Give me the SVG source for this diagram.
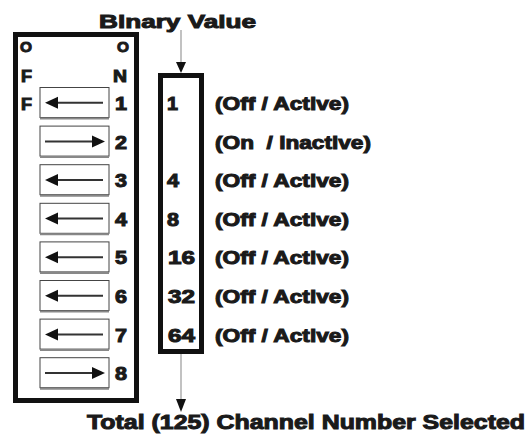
<svg xmlns="http://www.w3.org/2000/svg" width="527" height="437" viewBox="0 0 527 437">
<style>
.t{font-family:"Liberation Sans",Arial,sans-serif;font-weight:bold;fill:#1a1a1a;stroke:#1a1a1a;stroke-width:1;white-space:pre}
.frame{fill:none;stroke:#111;stroke-width:5}
.sw{fill:#fff;stroke:#444;stroke-width:1}
.sh{stroke:#888;stroke-width:2}
.al{stroke:#333;stroke-width:2}
.ah{fill:#111}
.conn{stroke:#999;stroke-width:1.2;fill:none}
</style>
<rect width="527" height="437" fill="#fff"/>
<g id="title"><text class="t" x="99" y="28" font-size="19" textLength="157" lengthAdjust="spacingAndGlyphs">Binary Value</text></g>
<g id="dip-switch">
<rect class="frame" x="15.5" y="34.5" width="121" height="366"/>
<text class="t" x="20" y="52" font-size="15" textLength="12" lengthAdjust="spacingAndGlyphs">O</text>
<text class="t" x="21" y="82" font-size="16" textLength="11" lengthAdjust="spacingAndGlyphs">F</text>
<text class="t" x="21" y="110" font-size="16" textLength="11" lengthAdjust="spacingAndGlyphs">F</text>
<text class="t" x="117" y="52" font-size="15" textLength="12" lengthAdjust="spacingAndGlyphs">O</text>
<text class="t" x="113" y="82" font-size="16" textLength="14" lengthAdjust="spacingAndGlyphs">N</text>
<g id="sw1"><rect class="sw" x="40" y="87.5" width="69" height="30"/><line class="sh" x1="40" y1="118.5" x2="109" y2="118.5"/><line class="al" x1="56" y1="102.8" x2="103" y2="102.8"/><polygon class="ah" points="45,102.8 58,96.8 58,108.8"/><text class="t" x="115" y="110" font-size="18" textLength="12" lengthAdjust="spacingAndGlyphs">1</text></g>
<g id="sw2"><rect class="sw" x="40" y="126.1" width="69" height="30"/><line class="sh" x1="40" y1="157.1" x2="109" y2="157.1"/><line class="al" x1="45" y1="141.4" x2="94" y2="141.4"/><polygon class="ah" points="105,141.4 92,135.4 92,147.4"/><text class="t" x="115" y="148.6" font-size="18" textLength="12" lengthAdjust="spacingAndGlyphs">2</text></g>
<g id="sw3"><rect class="sw" x="40" y="164.7" width="69" height="30"/><line class="sh" x1="40" y1="195.7" x2="109" y2="195.7"/><line class="al" x1="56" y1="180" x2="103" y2="180"/><polygon class="ah" points="45,180 58,174 58,186"/><text class="t" x="115" y="187.2" font-size="18" textLength="12" lengthAdjust="spacingAndGlyphs">3</text></g>
<g id="sw4"><rect class="sw" x="40" y="203.3" width="69" height="30"/><line class="sh" x1="40" y1="234.3" x2="109" y2="234.3"/><line class="al" x1="56" y1="218.6" x2="103" y2="218.6"/><polygon class="ah" points="45,218.6 58,212.6 58,224.6"/><text class="t" x="115" y="225.8" font-size="18" textLength="12" lengthAdjust="spacingAndGlyphs">4</text></g>
<g id="sw5"><rect class="sw" x="40" y="241.9" width="69" height="30"/><line class="sh" x1="40" y1="272.9" x2="109" y2="272.9"/><line class="al" x1="56" y1="257.2" x2="103" y2="257.2"/><polygon class="ah" points="45,257.2 58,251.2 58,263.2"/><text class="t" x="115" y="264.4" font-size="18" textLength="12" lengthAdjust="spacingAndGlyphs">5</text></g>
<g id="sw6"><rect class="sw" x="40" y="280.5" width="69" height="30"/><line class="sh" x1="40" y1="311.5" x2="109" y2="311.5"/><line class="al" x1="56" y1="295.8" x2="103" y2="295.8"/><polygon class="ah" points="45,295.8 58,289.8 58,301.8"/><text class="t" x="115" y="303" font-size="18" textLength="12" lengthAdjust="spacingAndGlyphs">6</text></g>
<g id="sw7"><rect class="sw" x="40" y="319.1" width="69" height="30"/><line class="sh" x1="40" y1="350.1" x2="109" y2="350.1"/><line class="al" x1="56" y1="334.4" x2="103" y2="334.4"/><polygon class="ah" points="45,334.4 58,328.4 58,340.4"/><text class="t" x="115" y="341.6" font-size="18" textLength="12" lengthAdjust="spacingAndGlyphs">7</text></g>
<g id="sw8"><rect class="sw" x="40" y="357.7" width="69" height="30"/><line class="sh" x1="40" y1="388.7" x2="109" y2="388.7"/><line class="al" x1="45" y1="373" x2="94" y2="373"/><polygon class="ah" points="105,373 92,367 92,379"/><text class="t" x="115" y="380.2" font-size="18" textLength="12" lengthAdjust="spacingAndGlyphs">8</text></g>
</g>
<g id="binary-values">
<rect class="frame" x="160.5" y="75.5" width="41" height="276"/>
<text class="t" x="167" y="110" font-size="18" textLength="11" lengthAdjust="spacingAndGlyphs">1</text>
<text class="t" x="167" y="187.2" font-size="18" textLength="12" lengthAdjust="spacingAndGlyphs">4</text>
<text class="t" x="167" y="225.8" font-size="18" textLength="12" lengthAdjust="spacingAndGlyphs">8</text>
<text class="t" x="168" y="264.4" font-size="18" textLength="27" lengthAdjust="spacingAndGlyphs">16</text>
<text class="t" x="168" y="303" font-size="18" textLength="27" lengthAdjust="spacingAndGlyphs">32</text>
<text class="t" x="168" y="341.6" font-size="18" textLength="27" lengthAdjust="spacingAndGlyphs">64</text>
</g>
<g id="states">
<text class="t" x="215" y="110" font-size="18" textLength="134" lengthAdjust="spacingAndGlyphs">(Off / Active)</text>
<text class="t" x="215" y="148.6" font-size="18" textLength="156" lengthAdjust="spacingAndGlyphs">(On  / Inactive)</text>
<text class="t" x="215" y="187.2" font-size="18" textLength="134" lengthAdjust="spacingAndGlyphs">(Off / Active)</text>
<text class="t" x="215" y="225.8" font-size="18" textLength="134" lengthAdjust="spacingAndGlyphs">(Off / Active)</text>
<text class="t" x="215" y="264.4" font-size="18" textLength="134" lengthAdjust="spacingAndGlyphs">(Off / Active)</text>
<text class="t" x="215" y="303" font-size="18" textLength="134" lengthAdjust="spacingAndGlyphs">(Off / Active)</text>
<text class="t" x="215" y="341.6" font-size="18" textLength="134" lengthAdjust="spacingAndGlyphs">(Off / Active)</text>
</g>
<g id="total"><text class="t" x="87" y="429" font-size="20" textLength="438" lengthAdjust="spacingAndGlyphs">Total (125) Channel Number Selected</text></g>
<g id="connectors">
<line class="conn" x1="181" y1="30" x2="181" y2="63"/>
<polygon class="ah" points="176,62 186,62 181,73"/>
<line class="conn" x1="181" y1="354" x2="181" y2="400"/>
<polygon class="ah" points="176,399 186,399 181,412"/>
</g>
</svg>
